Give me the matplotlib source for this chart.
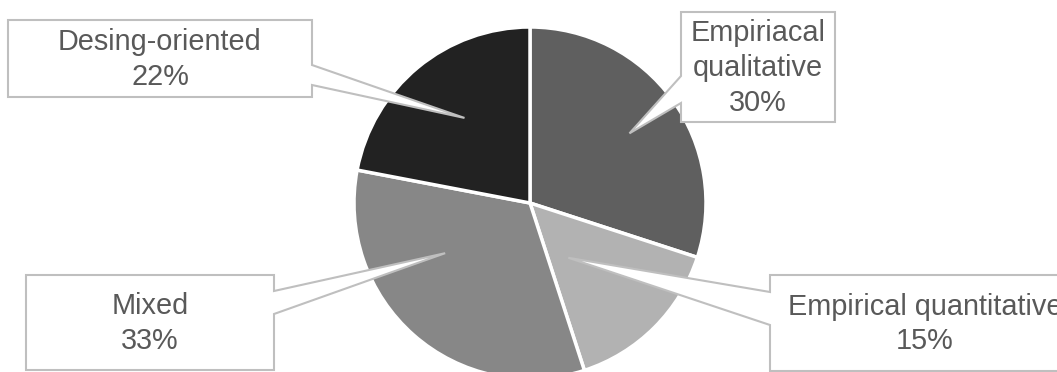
import numpy as np
import matplotlib
matplotlib.use("Agg")
import matplotlib.pyplot as plt
from matplotlib.patches import Polygon

labels = ["Empiriacal\nqualitative\n30%", "Empirical quantitative\n15%", "Mixed\n33%", "Desing-oriented\n22%"]
values = [30, 15, 33, 22]
colors = ["#5f5f5f", "#b2b2b2", "#878787", "#222222"]

W, H = 1057, 372
fig = plt.figure(figsize=(W / 100, H / 100), dpi=100)

# pie placed in pixels: centre (530, 203), radius 176
cx, cy, R = 530, 203, 176
ax = fig.add_axes([(cx - R) / W, (H - cy - R) / H, 2 * R / W, 2 * R / H])
wedges, _ = ax.pie(values, colors=colors, startangle=90, counterclock=False,
                   wedgeprops=dict(edgecolor="white", linewidth=2.5))
ax.set_xlim(-1, 1)
ax.set_ylim(-1, 1)
ax.set_aspect("equal")
ax.axis("off")

# overlay in pixel coordinates for the callouts
ov = fig.add_axes([0, 0, 1, 1], zorder=5)
ov.set_xlim(0, W)
ov.set_ylim(H, 0)
ov.axis("off")

# callout boxes: (x0, y0, x1, y1), side of pointer, base y range, tip angle offset, tip radius frac
boxes = [
    ((681, 12, 835, 122), "left", (76, 103), -1, 0.69),
    ((770, 275, 1080, 371), "left", (292, 325), -10, 0.38),
    ((26, 275, 274, 370), "right", (291, 314), -18, 0.56),
    ((8, 20, 312, 97), "right", (65, 85), -2, 0.61),
]

for w, lab, (box, side, (b0, b1), dang, frac) in zip(wedges, labels, boxes):
    ang = np.deg2rad((w.theta1 + w.theta2) / 2 + dang)
    tx = cx + R * frac * np.cos(ang)
    ty = cy - R * frac * np.sin(ang)
    x0, y0, x1, y1 = box
    if side == "right":
        pts = [(x0, y0), (x1, y0), (x1, b0), (tx, ty), (x1, b1), (x1, y1), (x0, y1)]
    else:
        pts = [(x0, y0), (x1, y0), (x1, y1), (x0, y1), (x0, b1), (tx, ty), (x0, b0)]
    ov.add_patch(Polygon(pts, closed=True, facecolor="white", edgecolor="#bfbfbf",
                         linewidth=1.5, joinstyle="miter"))
    ov.text((x0 + x1) / 2, (y0 + y1) / 2 + 1, lab, ha="center", va="center",
            fontsize=20.8, color="#595959", family="Liberation Sans", linespacing=1.3)

fig.savefig("out.png", dpi=100)
